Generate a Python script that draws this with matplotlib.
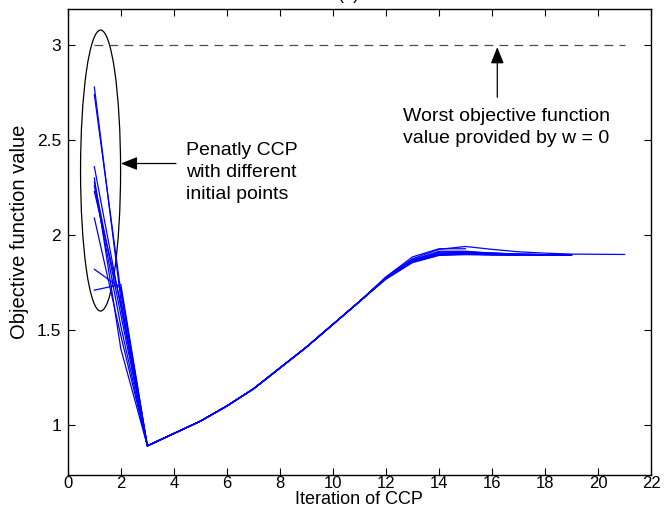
import matplotlib
matplotlib.use("Agg")
import matplotlib.pyplot as plt
from matplotlib.patches import Ellipse

plt.rcParams['font.family'] = ['Liberation Sans', 'DejaVu Sans']

# Objective value per CCP iteration, one run per initial point (iteration 1 first)
run_1 = [2.78, 1.66, 0.89, 0.955, 1.02, 1.10, 1.19, 1.30, 1.41, 1.53, 1.65, 1.775,
         1.865, 1.905, 1.910, 1.905, 1.900, 1.897, 1.896]
run_2 = [2.74, 1.70, 0.89, 0.955, 1.02, 1.10, 1.19, 1.30, 1.41, 1.53, 1.65, 1.775,
         1.870, 1.910, 1.912, 1.905, 1.900, 1.897, 1.896]
run_3 = [2.36, 1.62, 0.89, 0.955, 1.02, 1.10, 1.19, 1.30, 1.41, 1.53, 1.65, 1.780,
         1.885, 1.928, 1.928]
run_4 = [2.30, 1.40, 0.89, 0.955, 1.02, 1.10, 1.19, 1.30, 1.41, 1.53, 1.65, 1.778,
         1.875, 1.925, 1.940, 1.925, 1.912, 1.905, 1.900, 1.899, 1.898]
run_5 = [2.28, 1.58, 0.89, 0.955, 1.02, 1.10, 1.19, 1.30, 1.41, 1.53, 1.65, 1.772,
         1.860, 1.900, 1.905, 1.900, 1.897, 1.896, 1.895]
run_6 = [2.26, 1.52, 0.89, 0.955, 1.02, 1.10, 1.19, 1.30, 1.41, 1.53, 1.65, 1.770,
         1.858, 1.895, 1.900, 1.897, 1.896, 1.895, 1.894]
run_7 = [2.23, 1.64, 0.89, 0.955, 1.02, 1.10, 1.19, 1.30, 1.41, 1.53, 1.65, 1.773,
         1.862, 1.900, 1.902, 1.898, 1.896, 1.895, 1.895]
run_8 = [2.09, 1.47, 0.89, 0.955, 1.02, 1.10, 1.19, 1.30, 1.41, 1.53, 1.65, 1.768,
         1.855, 1.893, 1.897, 1.895, 1.894]
run_9 = [1.82, 1.72, 0.89, 0.955, 1.02, 1.10, 1.19, 1.30, 1.41, 1.53, 1.65, 1.776,
         1.868, 1.915, 1.915, 1.905, 1.900, 1.897, 1.896]
run_10 = [1.71, 1.74, 0.89, 0.955, 1.02, 1.10, 1.19, 1.30, 1.41, 1.53, 1.65, 1.771,
          1.860, 1.898, 1.900, 1.897, 1.895, 1.894, 1.894]
runs = [run_1, run_2, run_3, run_4, run_5, run_6, run_7, run_8, run_9, run_10]

# Reference objective obtained with w = 0
worst_value = 3.0
worst_span = [1, 21]

x_ticks = [0, 2, 4, 6, 8, 10, 12, 14, 16, 18, 20, 22]
y_ticks = [1, 1.5, 2, 2.5, 3]

fig = plt.figure(figsize=(6.65, 5.09), dpi=100)
ax = fig.add_axes([0.102, 0.067, 0.877, 0.915])

for run in runs:
    iters = list(range(1, len(run) + 1))
    ax.plot(iters, run, color=(0, 0, 1), lw=0.9)

ax.plot(worst_span, [worst_value, worst_value], color='0.3', lw=0.9,
        dashes=(7, 5))

# Ellipse around the starting points of the runs
ax.add_patch(Ellipse((1.235, 2.34), 1.51, 1.48, fill=False, ec='k', lw=0.9))

head = '-|>,head_length=1.0,head_width=0.4'
ax.annotate('', xy=(2.0, 2.377), xytext=(4.08, 2.377),
            arrowprops=dict(arrowstyle=head, color='k', lw=0.9,
                            shrinkA=0, shrinkB=0))
ax.text(4.45, 2.33, 'Penatly CCP\nwith different\ninitial points',
        fontsize=14, ha='left', va='center', linespacing=1.36)

ax.annotate('', xy=(16.2, 2.99), xytext=(16.2, 2.726),
            arrowprops=dict(arrowstyle=head, color='k', lw=0.9,
                            shrinkA=0, shrinkB=0))
ax.text(16.53, 2.565, 'Worst objective function\nvalue provided by w = 0',
        fontsize=14, ha='center', va='center', multialignment='left',
        linespacing=1.38)

ax.set_xlim(0, 22)
ax.set_ylim(0.737, 3.19)
ax.set_xticks(x_ticks)
ax.set_xticklabels([str(v) for v in x_ticks])
ax.set_yticks(y_ticks)
ax.set_yticklabels(['1', '1.5', '2', '2.5', '3'])
ax.tick_params(direction='in', top=True, right=True, length=5, width=0.8,
               labelsize=12.5)
ax.tick_params(axis='x', pad=1, labelsize=12)
ax.tick_params(axis='y', pad=5)
for s in ax.spines.values():
    s.set_linewidth(1.0)

ax.set_xlabel('Iteration of CCP', fontsize=13)
ax.xaxis.set_label_coords(0.5, -0.0625)
ax.xaxis.label.set_va('baseline')
ax.set_ylabel('Objective function value', fontsize=14.5)
ax.yaxis.set_label_coords(-0.066, 0.522)

fig.text(0.525, 1 + 1 / 509, '(a)', fontsize=13, ha='center', va='baseline')

fig.savefig('out.png', dpi=100)
